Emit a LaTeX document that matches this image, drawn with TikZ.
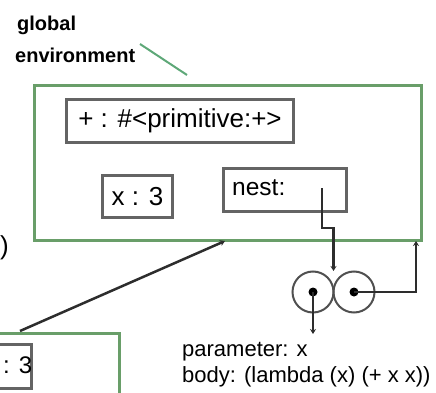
\documentclass[tikz,border=0pt]{standalone}
\usepackage{fontspec}
\setmainfont{Liberation Sans}
\usetikzlibrary{arrows.meta}
\definecolor{envgreen}{RGB}{105,158,105}
\definecolor{boxgray}{RGB}{100,100,100}
\definecolor{ptrgray}{RGB}{45,45,45}
\begin{document}
\begin{tikzpicture}[x=1pt,y=-1pt,
  envbox/.style={draw=envgreen, line width=3pt, inner sep=0pt},
  bindbox/.style={draw=boxgray, line width=3pt, fill=white, inner sep=0pt},
  bindtext/.style={inner sep=0pt, font=\fontsize{26}{28}\selectfont},
  proctext/.style={inner sep=0pt, anchor=west, font=\fontsize{22}{24}\selectfont},
  lbltext/.style={inner sep=0pt, anchor=west, font=\bfseries\fontsize{20}{22}\selectfont},
  ptr/.style={draw=ptrgray, line width=2.5pt, -{Stealth[length=5pt,width=6pt]}},
  cell/.style={circle, draw=boxgray!80!black, line width=2pt, minimum size=41pt, inner sep=0pt},
  celldot/.style={circle, fill=black, inner sep=0pt, minimum size=9pt}]
\useasboundingbox (0,0) rectangle (436,393);
\clip (0,0) rectangle (436,393);
% global environment
\node[envbox, anchor=north west, minimum width=387pt, minimum height=155pt] (global) at (33,84) {};
\node[bindbox, anchor=north west, minimum width=227pt, minimum height=43pt] (prim) at (65,98) {};
\node[bindtext] (primtxt) at (prim.center) {+ : \#<primitive:+>};
\node[bindbox, anchor=north west, minimum width=70pt, minimum height=42pt] (xbox) at (101,174) {};
\node[bindtext] (xtxt) at (xbox.center) {x : 3};
\node[bindbox, anchor=north west, minimum width=123pt, minimum height=43pt] (nest) at (222,167) {};
\node[bindtext, anchor=west, font=\fontsize{24.5}{26}\selectfont] (nesttxt) at (232,188) {nest:};
% label
\node[lbltext] (lblglobal) at (17,25) {global};
\node[lbltext] (lblenv) at (15,55) {environment};
\coordinate (lblptr) at (140,44);
\coordinate (lblend) at (187,75);
\draw[draw=envgreen!90!cyan, line width=2pt] (lblptr) -- (lblend);
% procedure object
\node[cell] (lc) at (313,292) {};
\node[cell] (rc) at (354,292) {};
\node[celldot] (ldot) at (lc.center) {};
\node[celldot] (rdot) at (rc.center) {};
\coordinate (nestptr) at (322,188);
\coordinate (pairtop) at (333.5,271);
\draw[ptr] (nestptr) -- ++(0,40) -| (pairtop);
\coordinate (genvR) at (416,241);
\draw[ptr] (rdot.center) -| (genvR);
\coordinate (procend) at (313,334);
\draw[ptr] (ldot.center) -- (procend);
\node[proctext] (param) at (182,352) {parameter: x};
\node[proctext] (body) at (182,377) {body: (lambda (x) (+ x x))};
% lower environment
\node[envbox, anchor=north east, minimum width=200pt, minimum height=120pt] (e1) at (121,332) {};
\node[bindbox, anchor=north east, minimum width=80pt, minimum height=44pt] (e1x) at (33,343) {};
\node[bindtext, anchor=west, font=\fontsize{24}{26}\selectfont] (e1xtxt) at (3,365) {: 3};
\coordinate (e1ptr) at (20,331);
\coordinate (genvL) at (225,241);
\draw[ptr] (e1ptr) -- (genvL);
% fragment at left edge
\node[inner sep=0pt, anchor=west, font=\fontsize{26}{28}\selectfont] (paren) at (0,248) {)};
\end{tikzpicture}
\end{document}
